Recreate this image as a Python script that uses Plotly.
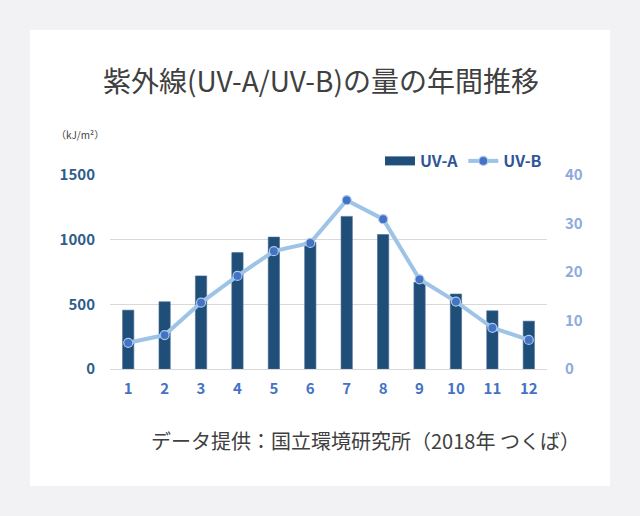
import plotly.graph_objects as go

months = [str(m) for m in range(1, 13)]
uva = [455, 520, 720, 900, 1020, 980, 1180, 1040, 670, 580, 450, 370]
uvb = [5.4, 7.0, 13.7, 19.2, 24.3, 26.0, 34.8, 30.9, 18.5, 13.9, 8.5, 6.0]

W, H = 640, 516
L, R, T, B = 110, 93, 175, 147
pw, ph = W - L - R, H - T - B

def px(x):
    return (x - L) / pw

def py(y):
    return (H - B - y) / ph

jp = "Noto Sans CJK JP"

fig = go.Figure()

fig.add_trace(go.Bar(
    x=months, y=uva, name='UV-A', showlegend=False,
    marker=dict(color='#1f4e79', line=dict(color='#4a6f95', width=0.6)),
    width=0.31
))

# legend entry for the bars: wide flat rectangle like the original
fig.add_trace(go.Scatter(
    x=months[:1], y=[None], name='UV-A', mode='lines',
    line=dict(color='#1f4e79', width=9)
))

fig.add_trace(go.Scatter(
    x=months, y=uvb, name='UV-B', yaxis='y2',
    mode='lines+markers',
    line=dict(color='#9dc3e6', width=4),
    marker=dict(color='#4472c4', size=9, line=dict(color='#a9c8ea', width=1.2))
))

fig.update_layout(
    width=W, height=H,
    margin=dict(l=L, r=R, t=T, b=B),
    paper_bgcolor='#f2f2f4',
    plot_bgcolor='rgba(0,0,0,0)',
    font=dict(family=jp, color='#404040'),
    showlegend=True,
    legend=dict(orientation='h', x=1.0, xanchor='right', y=py(161), yanchor='middle',
                font=dict(family=jp, size=16, color='#2f5597', weight='bold'),
                bgcolor='rgba(0,0,0,0)', tracegroupgap=0),
    xaxis=dict(type='category', range=[-0.5, 11.5], showgrid=False, showline=False, ticks='',
               tickfont=dict(family=jp, size=15, color='#4472c4', weight='bold'),
               ticklabelstandoff=9),
    yaxis=dict(range=[0, 1500], dtick=500, showgrid=True, gridcolor='#d9d9d9', gridwidth=1,
               zeroline=True, zerolinecolor='#d9d9d9', zerolinewidth=1,
               tickfont=dict(family=jp, size=15, color='#2e5d8c', weight='bold'),
               ticklabelstandoff=14),
    yaxis2=dict(range=[0, 40], dtick=10, overlaying='y', side='right', showgrid=False,
                zeroline=False,
                tickfont=dict(family=jp, size=15, color='#8faadc', weight='bold'),
                ticklabelstandoff=17),
    shapes=[dict(type='rect', xref='paper', yref='paper', layer='below',
                 x0=px(30), x1=px(610), y0=py(486), y1=py(30),
                 fillcolor='white', line=dict(width=0))],
    annotations=[
        dict(text='紫外線(UV-A/UV-B)の量の年間推移', xref='paper', yref='paper',
             x=px(321), y=py(80), xanchor='center', yanchor='middle', showarrow=False,
             font=dict(family=jp, size=28, color='#404040')),
        dict(text='（kJ/m²）', xref='paper', yref='paper',
             x=px(54), y=py(134), xanchor='left', yanchor='middle', showarrow=False,
             font=dict(family=jp, size=10, color='#404040')),
        dict(text='データ提供：国立環境研究所（2018年 つくば）', xref='paper', yref='paper',
             x=px(582), y=py(440), xanchor='right', yanchor='middle', showarrow=False,
             font=dict(family=jp, size=20, color='#404040')),
    ]
)

fig.write_html("out.html", config={'displayModeBar': False},
               post_script="document.body.style.margin='0';")
